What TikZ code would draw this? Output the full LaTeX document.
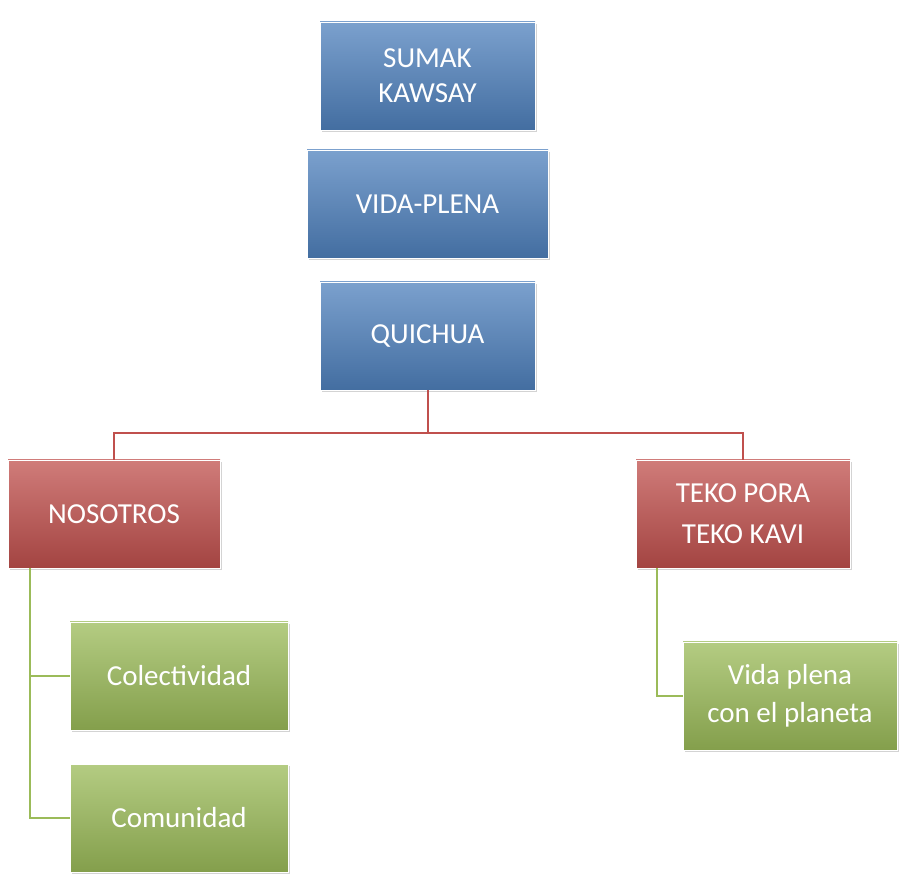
\documentclass[tikz,border=0pt]{standalone}
\usepackage{fontspec}
\setmainfont{Carlito}
\usetikzlibrary{shadows}
\definecolor{bl}{HTML}{4F81BD}
\definecolor{rd}{HTML}{C0504D}
\definecolor{gr}{HTML}{9BBB59}
\tikzset{
 box/.style={draw=white,line width=0.8pt,minimum width=#1,minimum height=108pt,inner sep=0pt,align=center,text=white,font=\fontsize{29}{35}\selectfont,drop shadow={shadow xshift=2pt,shadow yshift=-2pt,opacity=0.35}},
 bbox/.style={box=#1,top color=bl!75!white,bottom color=bl!85!black},
 rbox/.style={box=#1,top color=rd!75!white,bottom color=rd!85!black},
 gbox/.style={box=#1,top color=gr!75!white,bottom color=gr!85!black},
 rl/.style={draw=rd,line width=2pt},
 gl/.style={draw=gr,line width=2pt}
}
\begin{document}
\begin{tikzpicture}[x=1pt,y=-1pt]
\useasboundingbox (0,0) rectangle (914,874);
\node[bbox=215pt] (a) at (427.5,76) {SUMAK\\KAWSAY};
\node[bbox=241pt] (b) at (427.5,204) {VIDA-PLENA};
\node[bbox=215pt] (c) at (427.5,336) {QUICHUA};
\node[rbox=212pt] (n) at (114,514) {NOSOTROS};
\node[rbox=214pt] (t) at (743,514) {TEKO PORA\\[6pt]TEKO KAVI};
\node[gbox=218pt] (g1) at (179,676) {Colectividad};
\node[gbox=218pt] (g2) at (179,818) {Comunidad};
\node[gbox=214pt,font=\fontsize{29}{38}\selectfont] (v) at (790,696) {Vida plena\\con el planeta};
\draw[rl] (c.south) -- ++(0,43) -| (n.north);
\draw[rl] (c.south) -- ++(0,43) -| (t.north);
\draw[gl] (n.south west) ++(22,0) |- (g1.west);
\draw[gl] (n.south west) ++(22,0) |- (g2.west);
\draw[gl] (t.south west) ++(21,0) |- (v.west);
\end{tikzpicture}
\end{document}
